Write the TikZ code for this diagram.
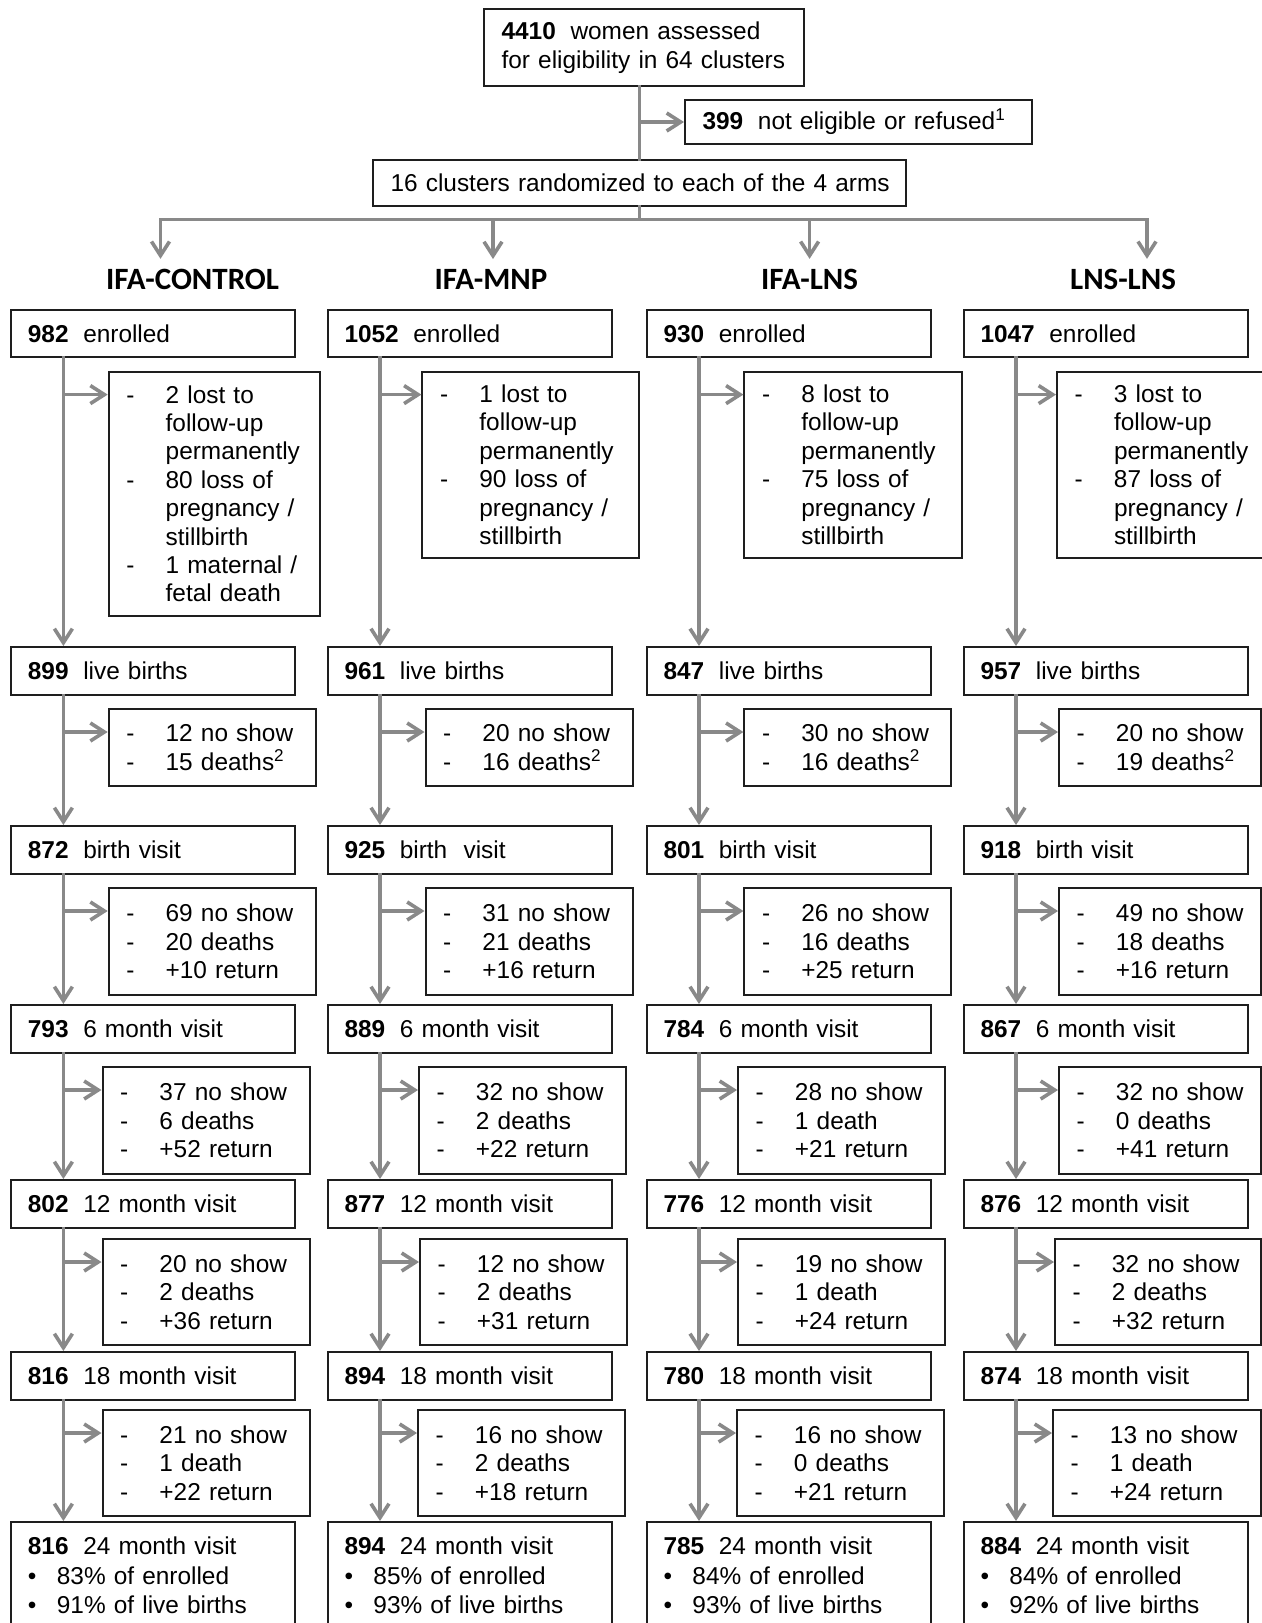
\documentclass[tikz,border=0pt]{standalone}
\usepackage{fontspec}
\setmainfont{Liberation Sans}
\newfontfamily\headfont{Carlito}
\usetikzlibrary{arrows.meta}

\definecolor{flowgray}{RGB}{137,137,137}
\definecolor{boxline}{RGB}{30,30,30}

\newcommand{\bnum}[1]{\textbf{#1}\hspace{0.6em}}
\newcommand{\dsh}[1]{\mbox{\makebox[19.7pt][l]{-}#1}}
\newcommand{\dgap}[1]{\mbox{\hspace*{19.7pt}#1}}
\newcommand{\bul}[1]{\mbox{\makebox[14.5pt][l]{\textbullet}#1}}

\begin{document}
\begin{tikzpicture}[x=0.5pt, y=-0.5pt,
  font=\fontsize{12.2}{14.2}\selectfont,
  box/.style={draw=boxline, line width=1pt, anchor=north west, align=left},
  mainbox/.style={box, text width=125.3pt, inner xsep=8.25pt, minimum height=23.8pt},
  sidebox/.style={box, inner xsep=8.8pt},
  lastbox/.style={mainbox, minimum height=0pt, inner ysep=7.6pt, font=\fontsize{12.2}{14.75}\selectfont},
  arm/.style={font=\headfont\fontsize{15.5}{18}\selectfont\bfseries, inner sep=5pt},
  flow/.style={draw=flowgray, line width=1.8pt, line cap=rect},
  arr/.style={flow, -{Straight Barb[length=7pt, width=9pt]}}]

\path[use as bounding box, fill=white] (0,0) rectangle (1262,1623);

\node[box, text width=142.4pt, inner xsep=8.8pt, minimum height=38.5pt, font=\fontsize{12.2}{14.5}\selectfont] (assessed) at (483,8) {\mbox{\bnum{4410}women assessed}\\\mbox{for eligibility in 64 clusters}};
\node[box, text width=155.9pt, inner xsep=8.8pt, minimum height=22pt] (excluded) at (684,99) {\mbox{\bnum{399}not eligible or refused\textsuperscript{1}}};
\node[box, text width=248.9pt, inner xsep=8.8pt, minimum height=23pt] (random) at (372,159) {\mbox{16 clusters randomized to each of the 4 arms}};

\node[arm] (hctrl) at (192.6,279.5) {IFA-CONTROL};
\node[arm] (hmnp) at (491,279.5) {IFA-MNP};
\node[arm] (hlns) at (809.6,279.5) {IFA-LNS};
\node[arm] (hlnsl) at (1123,279.5) {LNS-LNS};

\coordinate (split) at (random.south |- 0,219.5);
\coordinate (armA) at (160.5,219.5);
\coordinate (armB) at (493,219.5);
\coordinate (armC) at (809.6,219.5);
\coordinate (armD) at (1147,219.5);

% IFA-CONTROL
\node[mainbox] (enr1) at (10.4,308.5) {\bnum{982}enrolled};
\node[sidebox, text width=88pt, minimum height=122.2pt] (xenr1) at (107.7,370.6) {\dsh{2 lost to}\\\dgap{follow-up}\\\dgap{permanently}\\\dsh{80 loss of}\\\dgap{pregnancy /}\\\dgap{stillbirth}\\\dsh{1 maternal /}\\\dgap{fetal death}};
\node[mainbox] (live1) at (10.4,646) {\bnum{899}live births};
\node[sidebox, text width=85.9pt, minimum height=38.4pt] (xlive1) at (107.7,708) {\dsh{12 no show}\\\dsh{15 deaths\textsuperscript{2}}};
\node[mainbox] (birth1) at (10.4,825) {\bnum{872}birth visit};
\node[sidebox, text width=85.9pt, minimum height=53.5pt] (xbirth1) at (107.7,887) {\dsh{69 no show}\\\dsh{20 deaths}\\\dsh{+10 return}};
\node[mainbox] (six1) at (10.4,1004) {\bnum{793}6 month visit};
\node[sidebox, text width=85.9pt, minimum height=53.5pt] (xsix1) at (101.5,1066) {\dsh{37 no show}\\\dsh{6 deaths}\\\dsh{+52 return}};
\node[mainbox] (twelve1) at (10.4,1179) {\bnum{802}12 month visit};
\node[sidebox, text width=85.9pt, minimum height=53pt] (xtwelve1) at (101.5,1238) {\dsh{20 no show}\\\dsh{2 deaths}\\\dsh{+36 return}};
\node[mainbox] (eighteen1) at (10.4,1351) {\bnum{816}18 month visit};
\node[sidebox, text width=85.9pt, minimum height=53pt] (xeighteen1) at (101.5,1409) {\dsh{21 no show}\\\dsh{1 death}\\\dsh{+22 return}};
\node[lastbox] (tfour1) at (10.4,1521) {\bnum{816}24 month visit\\\bul{83\% of enrolled}\\\bul{91\% of live births}};

% IFA-MNP
\node[mainbox] (enr2) at (327,308.5) {\bnum{1052}enrolled};
\node[sidebox, text width=90.5pt, minimum height=93.2pt] (xenr2) at (421.4,370.6) {\dsh{1 lost to}\\\dgap{follow-up}\\\dgap{permanently}\\\dsh{90 loss of}\\\dgap{pregnancy /}\\\dgap{stillbirth}};
\node[mainbox] (live2) at (327,646) {\bnum{961}live births};
\node[sidebox, text width=85.9pt, minimum height=38.4pt] (xlive2) at (424.5,708) {\dsh{20 no show}\\\dsh{16 deaths\textsuperscript{2}}};
\node[mainbox] (birth2) at (327,825) {\bnum{925}birth\ \ visit};
\node[sidebox, text width=85.9pt, minimum height=53.5pt] (xbirth2) at (424.5,887) {\dsh{31 no show}\\\dsh{21 deaths}\\\dsh{+16 return}};
\node[mainbox] (six2) at (327,1004) {\bnum{889}6 month visit};
\node[sidebox, text width=85.9pt, minimum height=53.5pt] (xsix2) at (418,1066) {\dsh{32 no show}\\\dsh{2 deaths}\\\dsh{+22 return}};
\node[mainbox] (twelve2) at (327,1179) {\bnum{877}12 month visit};
\node[sidebox, text width=85.9pt, minimum height=53pt] (xtwelve2) at (419,1238) {\dsh{12 no show}\\\dsh{2 deaths}\\\dsh{+31 return}};
\node[mainbox] (eighteen2) at (327,1351) {\bnum{894}18 month visit};
\node[sidebox, text width=85.9pt, minimum height=53pt] (xeighteen2) at (417,1409) {\dsh{16 no show}\\\dsh{2 deaths}\\\dsh{+18 return}};
\node[lastbox] (tfour2) at (327,1521) {\bnum{894}24 month visit\\\bul{85\% of enrolled}\\\bul{93\% of live births}};

% IFA-LNS
\node[mainbox] (enr3) at (646,308.5) {\bnum{930}enrolled};
\node[sidebox, text width=91.2pt, minimum height=93.2pt] (xenr3) at (743.4,370.6) {\dsh{8 lost to}\\\dgap{follow-up}\\\dgap{permanently}\\\dsh{75 loss of}\\\dgap{pregnancy /}\\\dgap{stillbirth}};
\node[mainbox] (live3) at (646,646) {\bnum{847}live births};
\node[sidebox, text width=85.9pt, minimum height=38.4pt] (xlive3) at (743.4,708) {\dsh{30 no show}\\\dsh{16 deaths\textsuperscript{2}}};
\node[mainbox] (birth3) at (646,825) {\bnum{801}birth visit};
\node[sidebox, text width=85.9pt, minimum height=53.5pt] (xbirth3) at (743.4,887) {\dsh{26 no show}\\\dsh{16 deaths}\\\dsh{+25 return}};
\node[mainbox] (six3) at (646,1004) {\bnum{784}6 month visit};
\node[sidebox, text width=85.9pt, minimum height=53.5pt] (xsix3) at (737,1066) {\dsh{28 no show}\\\dsh{1 death}\\\dsh{+21 return}};
\node[mainbox] (twelve3) at (646,1179) {\bnum{776}12 month visit};
\node[sidebox, text width=85.9pt, minimum height=53pt] (xtwelve3) at (737,1238) {\dsh{19 no show}\\\dsh{1 death}\\\dsh{+24 return}};
\node[mainbox] (eighteen3) at (646,1351) {\bnum{780}18 month visit};
\node[sidebox, text width=85.9pt, minimum height=53pt] (xeighteen3) at (736,1409) {\dsh{16 no show}\\\dsh{0 deaths}\\\dsh{+21 return}};
\node[lastbox] (tfour3) at (646,1521) {\bnum{785}24 month visit\\\bul{84\% of enrolled}\\\bul{93\% of live births}};

% LNS-LNS
\node[mainbox] (enr4) at (963,308.5) {\bnum{1047}enrolled};
\node[sidebox, text width=100pt, minimum height=93.2pt] (xenr4) at (1056,370.6) {\dsh{3 lost to}\\\dgap{follow-up}\\\dgap{permanently}\\\dsh{87 loss of}\\\dgap{pregnancy /}\\\dgap{stillbirth}};
\node[mainbox] (live4) at (963,646) {\bnum{957}live births};
\node[sidebox, text width=83.4pt, minimum height=38.4pt] (xlive4) at (1058,708) {\dsh{20 no show}\\\dsh{19 deaths\textsuperscript{2}}};
\node[mainbox] (birth4) at (963,825) {\bnum{918}birth visit};
\node[sidebox, text width=83.4pt, minimum height=53.5pt] (xbirth4) at (1058,887) {\dsh{49 no show}\\\dsh{18 deaths}\\\dsh{+16 return}};
\node[mainbox] (six4) at (963,1004) {\bnum{867}6 month visit};
\node[sidebox, text width=83.4pt, minimum height=53.5pt] (xsix4) at (1058,1066) {\dsh{32 no show}\\\dsh{0 deaths}\\\dsh{+41 return}};
\node[mainbox] (twelve4) at (963,1179) {\bnum{876}12 month visit};
\node[sidebox, text width=85.4pt, minimum height=53pt] (xtwelve4) at (1054,1238) {\dsh{32 no show}\\\dsh{2 deaths}\\\dsh{+32 return}};
\node[mainbox] (eighteen4) at (963,1351) {\bnum{874}18 month visit};
\node[sidebox, text width=86.4pt, minimum height=53pt] (xeighteen4) at (1052,1409) {\dsh{13 no show}\\\dsh{1 death}\\\dsh{+24 return}};
\node[lastbox] (tfour4) at (963,1521) {\bnum{884}24 month visit\\\bul{84\% of enrolled}\\\bul{92\% of live births}};

\coordinate (tr1) at (63.4,0);
\coordinate (tr2) at (380,0);
\coordinate (tr3) at (699,0);
\coordinate (tr4) at (1016,0);

\draw[flow] (random.north |- assessed.south) -- (random.north);
\draw[arr] (random.north |- excluded.west) -- (excluded.west);
\draw[flow] (random.south) -- (split);
\draw[flow] (armA) -- (armD);
\draw[arr] (armA) -- (armA |- hctrl.north);
\draw[arr] (armB) -- (armB |- hmnp.north);
\draw[arr] (armC) -- (armC |- hlns.north);
\draw[arr] (armD) -- (armD |- hlnsl.north);

\draw[arr] (tr1 |- enr1.south) -- (tr1 |- live1.north);
\draw[arr] (tr1 |- live1.south) -- (tr1 |- birth1.north);
\draw[arr] (tr1 |- birth1.south) -- (tr1 |- six1.north);
\draw[arr] (tr1 |- six1.south) -- (tr1 |- twelve1.north);
\draw[arr] (tr1 |- twelve1.south) -- (tr1 |- eighteen1.north);
\draw[arr] (tr1 |- eighteen1.south) -- (tr1 |- tfour1.north);
\draw[arr] (tr1 |- 0,394.6) -- (xenr1.west |- 0,394.6);
\draw[arr] (tr1 |- 0,732) -- (xlive1.west |- 0,732);
\draw[arr] (tr1 |- 0,911) -- (xbirth1.west |- 0,911);
\draw[arr] (tr1 |- 0,1090) -- (xsix1.west |- 0,1090);
\draw[arr] (tr1 |- 0,1262) -- (xtwelve1.west |- 0,1262);
\draw[arr] (tr1 |- 0,1433) -- (xeighteen1.west |- 0,1433);

\draw[arr] (tr2 |- enr2.south) -- (tr2 |- live2.north);
\draw[arr] (tr2 |- live2.south) -- (tr2 |- birth2.north);
\draw[arr] (tr2 |- birth2.south) -- (tr2 |- six2.north);
\draw[arr] (tr2 |- six2.south) -- (tr2 |- twelve2.north);
\draw[arr] (tr2 |- twelve2.south) -- (tr2 |- eighteen2.north);
\draw[arr] (tr2 |- eighteen2.south) -- (tr2 |- tfour2.north);
\draw[arr] (tr2 |- 0,394.6) -- (xenr2.west |- 0,394.6);
\draw[arr] (tr2 |- 0,732) -- (xlive2.west |- 0,732);
\draw[arr] (tr2 |- 0,911) -- (xbirth2.west |- 0,911);
\draw[arr] (tr2 |- 0,1090) -- (xsix2.west |- 0,1090);
\draw[arr] (tr2 |- 0,1262) -- (xtwelve2.west |- 0,1262);
\draw[arr] (tr2 |- 0,1433) -- (xeighteen2.west |- 0,1433);

\draw[arr] (tr3 |- enr3.south) -- (tr3 |- live3.north);
\draw[arr] (tr3 |- live3.south) -- (tr3 |- birth3.north);
\draw[arr] (tr3 |- birth3.south) -- (tr3 |- six3.north);
\draw[arr] (tr3 |- six3.south) -- (tr3 |- twelve3.north);
\draw[arr] (tr3 |- twelve3.south) -- (tr3 |- eighteen3.north);
\draw[arr] (tr3 |- eighteen3.south) -- (tr3 |- tfour3.north);
\draw[arr] (tr3 |- 0,394.6) -- (xenr3.west |- 0,394.6);
\draw[arr] (tr3 |- 0,732) -- (xlive3.west |- 0,732);
\draw[arr] (tr3 |- 0,911) -- (xbirth3.west |- 0,911);
\draw[arr] (tr3 |- 0,1090) -- (xsix3.west |- 0,1090);
\draw[arr] (tr3 |- 0,1262) -- (xtwelve3.west |- 0,1262);
\draw[arr] (tr3 |- 0,1433) -- (xeighteen3.west |- 0,1433);

\draw[arr] (tr4 |- enr4.south) -- (tr4 |- live4.north);
\draw[arr] (tr4 |- live4.south) -- (tr4 |- birth4.north);
\draw[arr] (tr4 |- birth4.south) -- (tr4 |- six4.north);
\draw[arr] (tr4 |- six4.south) -- (tr4 |- twelve4.north);
\draw[arr] (tr4 |- twelve4.south) -- (tr4 |- eighteen4.north);
\draw[arr] (tr4 |- eighteen4.south) -- (tr4 |- tfour4.north);
\draw[arr] (tr4 |- 0,394.6) -- (xenr4.west |- 0,394.6);
\draw[arr] (tr4 |- 0,732) -- (xlive4.west |- 0,732);
\draw[arr] (tr4 |- 0,911) -- (xbirth4.west |- 0,911);
\draw[arr] (tr4 |- 0,1090) -- (xsix4.west |- 0,1090);
\draw[arr] (tr4 |- 0,1262) -- (xtwelve4.west |- 0,1262);
\draw[arr] (tr4 |- 0,1433) -- (xeighteen4.west |- 0,1433);

\end{tikzpicture}
\end{document}
